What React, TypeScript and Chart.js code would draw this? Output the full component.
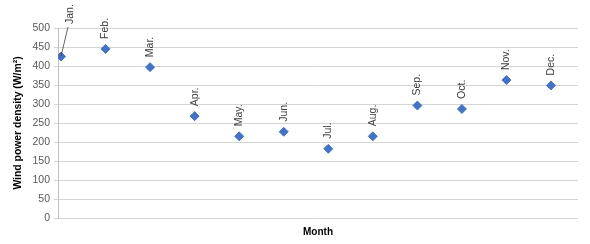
import React, { useEffect, useRef } from "react";
import { Chart, registerables } from "chart.js";

Chart.register(...registerables);

const months = ["Jan.", "Feb.", "Mar.", "Apr.", "May.", "Jun.", "Jul.", "Aug.", "Sep.", "Oct.", "Nov.", "Dec."];
const monthIndex = [1, 2, 3, 4, 5, 6, 7, 8, 9, 10, 11, 12];
const windPowerDensity = [425, 445, 397, 268, 215, 227, 182, 215, 296, 287, 363, 349];
const yTicks = [0, 50, 100, 150, 200, 250, 300, 350, 400, 450, 500];

const FONT = "'Liberation Sans', Arial, sans-serif";

const labelPlugin = {
  id: "rotLabels",
  afterDatasetsDraw(chart: any) {
    const ctx = chart.ctx;
    const meta = chart.getDatasetMeta(0);
    ctx.save();
    ctx.font = `10.5px ${FONT}`;
    ctx.fillStyle = "#404040";
    ctx.textBaseline = "middle";
    ctx.textAlign = "left";
    meta.data.forEach((pt: any, i: number) => {
      let lx = pt.x;
      let ly = pt.y - 10;
      if (i === 0) {
        // leader line for displaced first label
        lx = pt.x + 9;
        ly = 24;
        ctx.strokeStyle = "#404040";
        ctx.lineWidth = 0.8;
        ctx.beginPath();
        ctx.moveTo(pt.x, pt.y);
        ctx.lineTo(pt.x + 7, 27);
        ctx.stroke();
      }
      ctx.save();
      ctx.translate(lx, ly);
      ctx.rotate(-Math.PI / 2);
      ctx.fillText(months[i], 0, 0);
      ctx.restore();
    });
    ctx.restore();
  },
};

export default function App() {
  const ref = useRef<HTMLCanvasElement>(null);
  useEffect(() => {
    document.body.style.margin = "0";
    const chart = new Chart(ref.current!, {
      type: "scatter",
      data: {
        datasets: [
          {
            data: monthIndex.map((m, i) => ({ x: m, y: windPowerDensity[i] })),
            backgroundColor: "#4472c4",
            borderColor: "#4472c4",
            pointStyle: "rectRot",
            pointRadius: 4.5,
            pointHoverRadius: 4.5,
          },
        ],
      },
      options: {
        animation: false,
        responsive: false,
        devicePixelRatio: 1,
        layout: { padding: { top: 28, right: 12, left: 0, bottom: 0 } },
        plugins: { legend: { display: false }, tooltip: { enabled: false } },
        scales: {
          x: {
            type: "linear",
            min: 0.933,
            max: 12.606,
            ticks: { display: false },
            grid: { display: false },
            border: { display: false },
            title: {
              display: true,
              text: "Month",
              color: "#000",
              font: { family: FONT, size: 10, weight: "bold" },
              padding: { top: 0, bottom: 6 },
            },
            afterFit(scale: any) {
              scale.height = 26;
            },
          },
          y: {
            min: 0,
            max: 500,
            afterBuildTicks(scale: any) {
              scale.ticks = yTicks.map((v) => ({ value: v }));
            },
            ticks: {
              color: "#595959",
              font: { family: FONT, size: 10.5 },
              padding: 4,
            },
            grid: { color: "#d4d4d4", tickLength: 4 },
            border: { display: true, color: "#bfbfbf" },
            title: {
              display: true,
              text: "Wind power density (W/m²)",
              color: "#000",
              font: { family: FONT, size: 10.4, weight: "bold" },
              padding: { top: 12, bottom: 0 },
            },
            afterFit(scale: any) {
              scale.width = 58;
            },
          },
        },
      },
      plugins: [labelPlugin],
    });
    return () => chart.destroy();
  }, []);
  return <canvas ref={ref} width={590} height={244} style={{ display: "block" }} />;
}
